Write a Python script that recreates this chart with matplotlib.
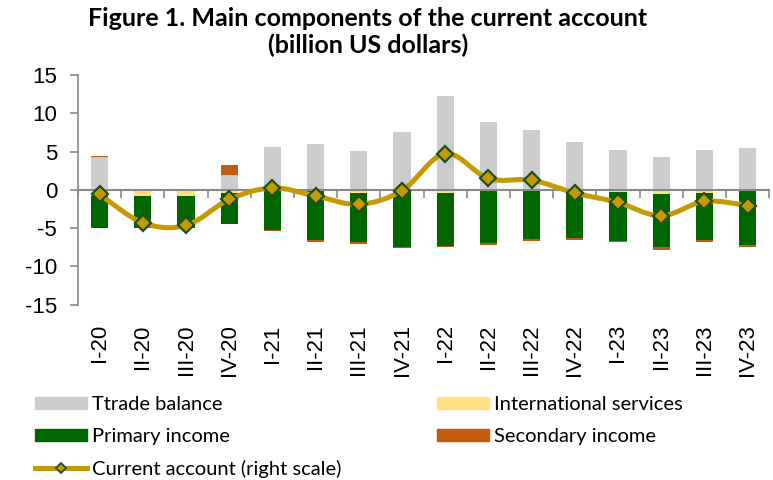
import numpy as np
import matplotlib
matplotlib.use("Agg")
import matplotlib.pyplot as plt
from matplotlib.path import Path
from matplotlib.patches import PathPatch, Patch
from matplotlib.lines import Line2D

plt.rcParams['axes.unicode_minus'] = False

quarters = ["I-20", "II-20", "III-20", "IV-20", "I-21", "II-21", "III-21", "IV-21",
            "I-22", "II-22", "III-22", "IV-22", "I-23", "II-23", "III-23", "IV-23"]
trade = [4.35, 0.0, 0.0, 1.95, 5.6, 6.0, 5.1, 7.6, 12.26, 8.87, 7.87, 6.22, 5.22, 4.35, 5.22, 5.48]
services = [-0.78, -0.78, -0.78, -0.45, -0.1, -0.2, -0.4, -0.3, -0.35, -0.1, 0.0, -0.1, -0.3, -0.6, -0.45, -0.15]
primary = [-4.2, -4.2, -4.2, -3.95, -5.15, -6.3, -6.45, -7.2, -6.95, -6.9, -6.4, -6.15, -6.35, -6.9, -6.05, -7.1]
secondary = [0.1, 0.0, 0.0, 1.3, -0.12, -0.25, -0.18, -0.13, -0.13, -0.25, -0.25, -0.25, -0.18, -0.3, -0.25, -0.25]
current = [-0.6, -4.3, -4.65, -1.25, 0.25, -0.8, -1.9, -0.1, 4.74, 1.48, 1.26, -0.4, -1.65, -3.4, -1.5, -2.05]

c_trade = "#cccccc"
c_serv = "#ffe083"
c_prim = "#006600"
c_sec = "#c55a11"
c_line = "#c49a00"
c_axis = "#898989"

tick_font = ['Liberation Sans', 'DejaVu Sans']
text_font = ['Lato', 'DejaVu Sans']

fig = plt.figure(figsize=(7.73, 4.8), dpi=100)
ax = fig.add_axes([0.101, 0.365, 0.894, 0.479])

x = np.arange(len(quarters))
pos_bottom = np.zeros(len(x))
neg_bottom = np.zeros(len(x))
for vals, col in [(trade, c_trade), (services, c_serv), (primary, c_prim), (secondary, c_sec)]:
    v = np.array(vals)
    bottom = np.where(v >= 0, pos_bottom, neg_bottom)
    ax.bar(x, v, 0.4, bottom=bottom, color=col, zorder=2)
    pos_bottom = pos_bottom + np.where(v > 0, v, 0)
    neg_bottom = neg_bottom + np.where(v < 0, v, 0)

ax.set_xlim(-0.5, len(x) - 0.5)
ax.set_ylim(-15, 15)
ax.set_yticks(range(-15, 16, 5))
ax.set_xticks(x)
ax.set_xticklabels(quarters, rotation=90, fontsize=16, family=tick_font)
ax.tick_params(axis='x', length=0, pad=14)
ax.tick_params(axis='y', length=6, width=1.2, color=c_axis, pad=9, labelsize=16)
for lab in ax.get_yticklabels():
    lab.set_family(tick_font)
for s in ['top', 'right', 'bottom']:
    ax.spines[s].set_visible(False)
ax.spines['left'].set_color(c_axis)
ax.spines['left'].set_linewidth(1.2)

# zero axis with category ticks, plus the current account line on top
ax2 = ax.twiny()
ax2.set_xlim(ax.get_xlim())
for s in ['bottom', 'left', 'right']:
    ax2.spines[s].set_visible(False)
ax2.spines['top'].set_position(('data', 0))
ax2.spines['top'].set_color(c_axis)
ax2.spines['top'].set_linewidth(1.5)
ax2.set_xticks(np.arange(-0.5, len(x), 1))
ax2.tick_params(axis='x', direction='in', length=6, width=1.2, color=c_axis, labeltop=False)

# smoothed line (excel style bezier)
pts = np.column_stack([x, current])
verts = [tuple(pts[0])]
codes = [Path.MOVETO]
for i in range(len(pts) - 1):
    p0 = pts[max(i - 1, 0)]
    p1 = pts[i]
    p2 = pts[i + 1]
    p3 = pts[min(i + 2, len(pts) - 1)]
    verts += [tuple(p1 + (p2 - p0) / 6), tuple(p2 - (p3 - p1) / 6), tuple(p2)]
    codes += [Path.CURVE4] * 3
ax2.add_patch(PathPatch(Path(verts, codes), fill=False, edgecolor=c_line, lw=3.6,
                        capstyle='butt', joinstyle='round', zorder=3))
ax2.plot(x, current, ls='none', marker='D', ms=8.2, mfc=c_line, mec="#1f4e1f", mew=1.6, zorder=4)

h_trade = Patch(color=c_trade)
h_serv = Patch(color=c_serv)
h_prim = Patch(color=c_prim)
h_sec = Patch(color=c_sec)
h_line = Line2D([], [], color=c_line, lw=3.6, marker='D', ms=5, mfc=c_line, mec="#1f4e1f", mew=1.3)

leg_kw = dict(frameon=False, loc='upper left', borderpad=0, borderaxespad=0,
              handlelength=2.6, handleheight=0.55, handletextpad=0.25, labelspacing=0.72,
              prop={'family': text_font, 'size': 14.5})
fig.legend([h_trade, h_prim, h_line],
           ["Ttrade balance", "Primary income", "Current account (right scale)"],
           bbox_to_anchor=(0.045, 0.174), **leg_kw)
fig.legend([h_serv, h_sec], ["International services", "Secondary income"],
           bbox_to_anchor=(0.565, 0.174), **leg_kw)

fig.text(0.476, 0.985, "Figure 1. Main components of the current account\n(billion US dollars)",
         ha='center', va='top', fontsize=18, fontweight='bold', family=text_font, linespacing=1.15)

fig.savefig("out.png", dpi=100)
